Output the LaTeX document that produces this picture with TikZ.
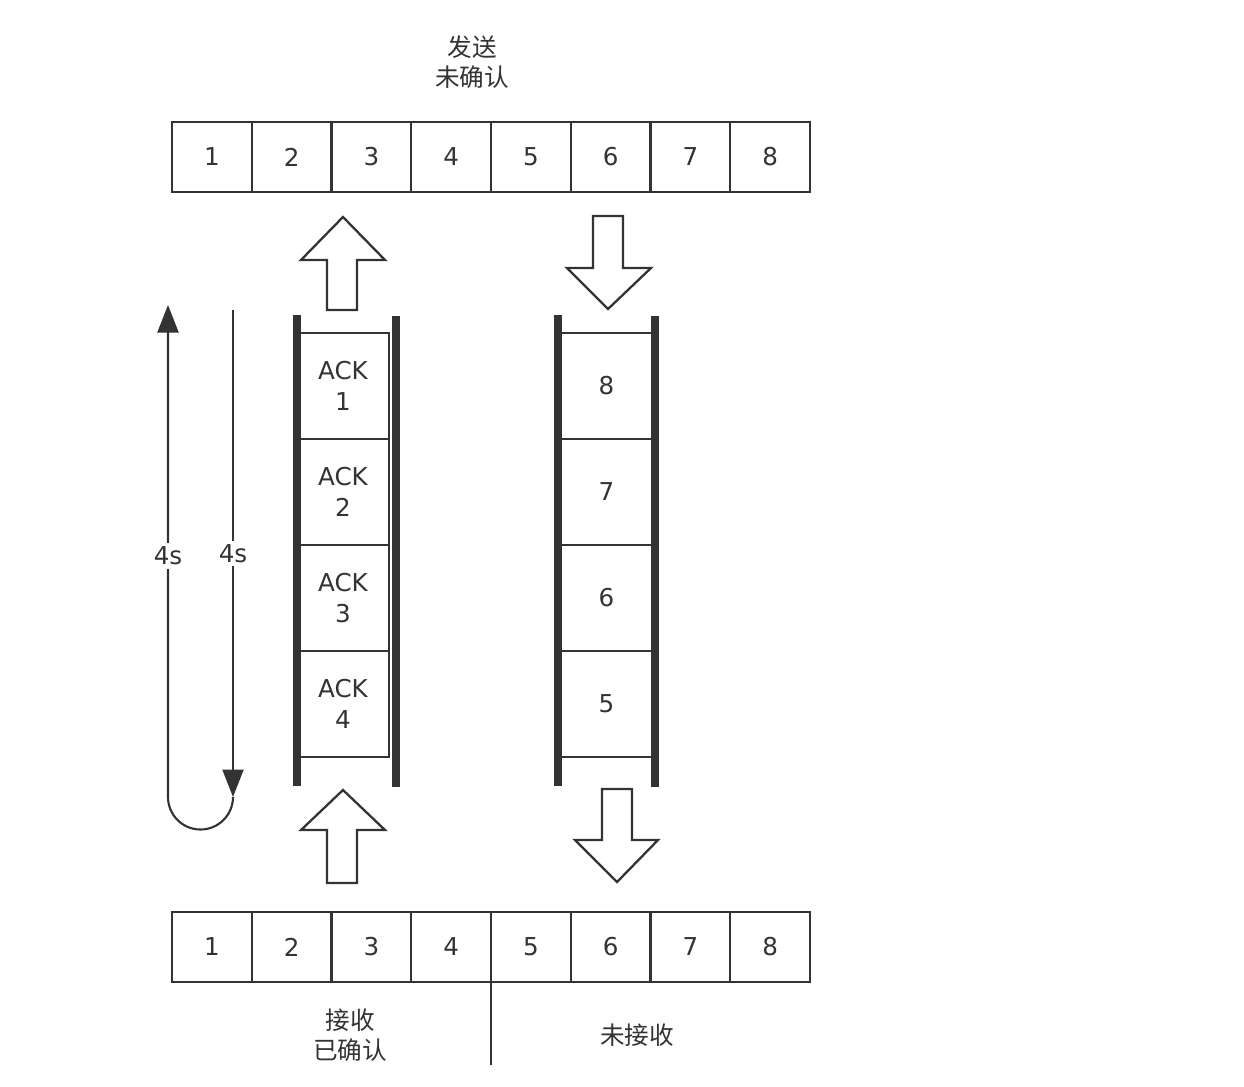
\documentclass[tikz,border=0pt]{standalone}
\usepackage{fontspec}
\setmainfont{DejaVu Sans}
\newfontfamily\cjk{Noto Sans CJK SC}
\usetikzlibrary{arrows.meta}
\definecolor{ink}{HTML}{333333}
\begin{document}
\begin{tikzpicture}[x=0.02cm,y=-0.02cm,
  txt/.style={text=ink, font=\fontsize{14}{17.5}\selectfont, align=center, inner sep=1pt},
  ctxt/.style={text=ink, font=\cjk\fontsize{14}{17}\selectfont, align=center, inner sep=1pt},
  cell/.style={txt, draw=ink, line width=1.4pt, minimum width=1.595cm, minimum height=1.4cm, inner sep=0pt},
  lstk/.style={txt, draw=ink, line width=1.2pt, minimum width=1.84cm, minimum height=2.12cm, inner sep=0pt},
  rstk/.style={txt, draw=ink, line width=1.2pt, minimum width=1.94cm, minimum height=2.12cm, inner sep=0pt},
  bar/.style={draw=ink, line width=4.2pt},
  blk/.style={draw=ink, fill=white, line width=1.3pt, line join=miter},
  conn/.style={draw=ink, line width=1.2pt, -{Triangle[length=0.55cm,width=0.42cm]}},
  lbl/.style={txt, fill=white, inner sep=2pt}]
\useasboundingbox[fill=white] (0,0) rectangle (1244,1086);

% top label
\node[ctxt] (toplbl) at (472,62) {发送\\未确认};

% top and bottom rows
\foreach \i in {1,...,8}{
  \node[cell] (t\i) at ({172+79.75*(\i-0.5)},157) {\i};
  \node[cell] (b\i) at ({172+79.75*(\i-0.5)},947) {\i};
}

% left stack (ACK)
\draw[bar] (297,315) -- (297,786);
\draw[bar] (396,316) -- (396,787);
\node[lstk] (k1) at (343,386) {ACK\\1};
\node[lstk] (k2) at (343,492) {ACK\\2};
\node[lstk] (k3) at (343,598) {ACK\\3};
\node[lstk] (k4) at (343,704) {ACK\\4};

% right stack (data)
\draw[bar] (558,315) -- (558,786);
\draw[bar] (655,316) -- (655,787);
\node[rstk] (d8) at (606.5,386) {8};
\node[rstk] (d7) at (606.5,492) {7};
\node[rstk] (d6) at (606.5,598) {6};
\node[rstk] (d5) at (606.5,704) {5};

% block arrows
\draw[blk] (327,310) -- (327,260) -- (301,260) -- (343,217) -- (385,260) -- (357,260) -- (357,310) -- cycle;
\draw[blk] (593,216) -- (623,216) -- (623,268) -- (651,268) -- (608,309) -- (567,268) -- (593,268) -- cycle;
\draw[blk] (327,883) -- (327,830) -- (301,830) -- (343,790) -- (385,830) -- (357,830) -- (357,883) -- cycle;
\draw[blk] (602,789) -- (632,789) -- (632,840) -- (658,840) -- (617,882) -- (575,840) -- (602,840) -- cycle;

% timing arrows
\coordinate (ta) at (233,310);
\coordinate (tb) at (233,797);
\coordinate (td) at (168,305);
\draw[conn] (ta) -- node[lbl] (l2) {4s} (tb);
\draw[conn] (tb) arc[start angle=0,end angle=180,radius=32.5] -- node[lbl,pos=0.49] (l1) {4s} (td);

% bottom divider and labels
\coordinate (dv1) at (491,982);
\coordinate (dv2) at (491,1065);
\draw[draw=ink, line width=1.4pt] (dv1) -- (dv2);
\node[ctxt] (rcv) at (350,1035) {接收\\已确认};
\node[ctxt] (nrcv) at (637,1035) {未接收};
\end{tikzpicture}
\end{document}
